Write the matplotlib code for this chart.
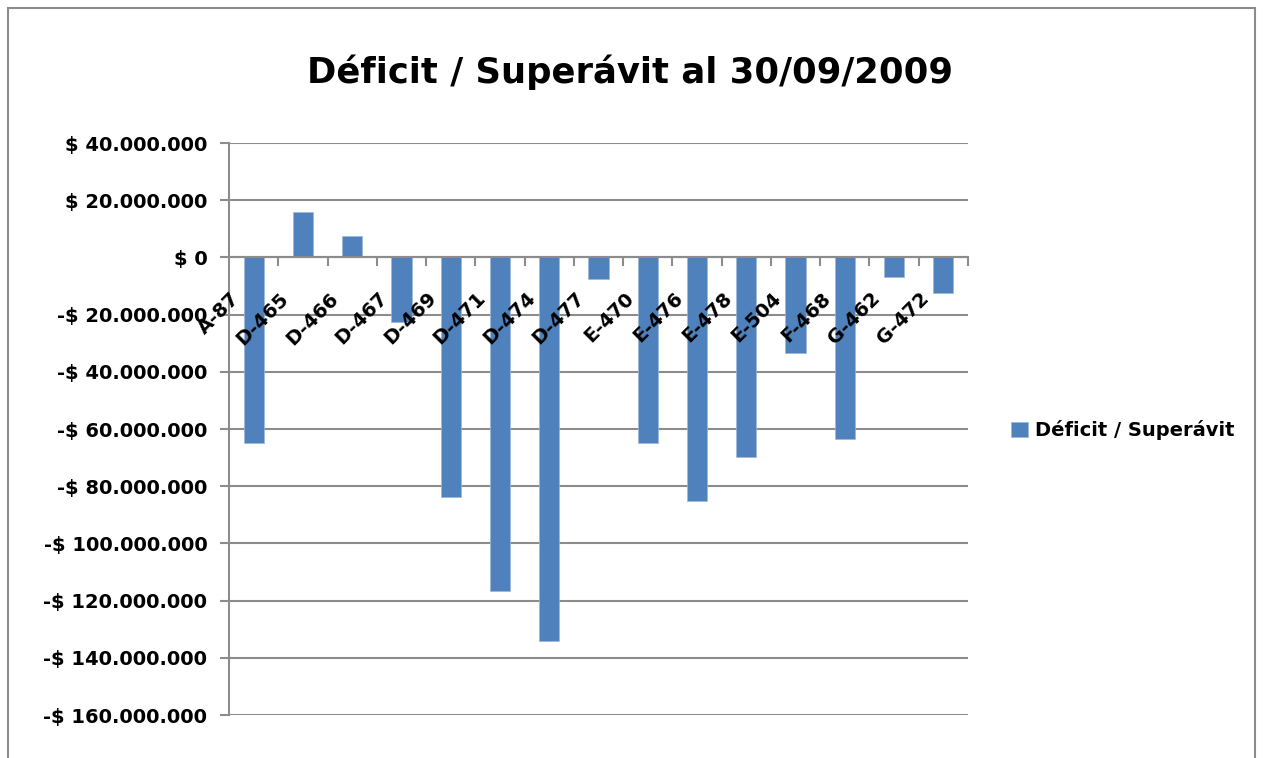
import matplotlib
matplotlib.use("Agg")
import matplotlib.pyplot as plt
import matplotlib.ticker as mticker
import matplotlib.transforms as mtransforms
from matplotlib.patches import Rectangle
import numpy as np

categories = ["A-87", "D-465", "D-466", "D-467", "D-469", "D-471", "D-474", "D-477",
              "E-470", "E-476", "E-478", "E-504", "F-468", "G-462", "G-472"]
values = [-65.0e6, 16.0e6, 7.5e6, -22.6e6, -83.8e6, -116.6e6, -134.1e6, -7.5e6,
          -65.0e6, -85.3e6, -69.8e6, -33.4e6, -63.4e6, -6.9e6, -12.4e6]
series_name = "Déficit / Superávit"
title = "Déficit / Superávit al 30/09/2009"
yticks = [40e6, 20e6, 0, -20e6, -40e6, -60e6, -80e6, -100e6, -120e6, -140e6, -160e6]

BAR = "#4F81BD"
GRID = "#8C8C8C"
FONT = "DejaVu Sans"

plt.rcParams['font.family'] = [FONT]

W, H = 1264, 758
fig = plt.figure(figsize=(W / 100, H / 100), dpi=100)
fig.patch.set_facecolor("white")

left, right, top, bottom = 229, 968, 143, 715
ax = fig.add_axes([left / W, 1 - bottom / H, (right - left) / W, (bottom - top) / H])

x = np.arange(len(categories))
ax.bar(x, values, width=0.41, color=BAR, edgecolor="#9DB7DA", linewidth=0.5,
       label=series_name, zorder=3)

ax.set_xlim(-0.5, len(categories) - 0.5)
ax.set_ylim(min(yticks), max(yticks))
ax.set_yticks(yticks)
ax.yaxis.grid(True, color=GRID, linewidth=1.5)
ax.set_axisbelow(True)
ax.xaxis.set_zorder(5)


def fmt(v, pos):
    if v == 0:
        return "$ 0"
    s = "{:,.0f}".format(abs(v)).replace(",", ".")
    return ("-$ " if v < 0 else "$ ") + s


ax.yaxis.set_major_formatter(mticker.FuncFormatter(fmt))
for sp in ["top", "right"]:
    ax.spines[sp].set_visible(False)
ax.spines["left"].set_color(GRID)
ax.spines["left"].set_linewidth(1.5)
ax.spines["bottom"].set_color(GRID)
ax.spines["bottom"].set_linewidth(1.5)
ax.spines["bottom"].set_position(("data", 0))
ax.spines["bottom"].set_zorder(4)

ax.tick_params(axis="y", direction="out", length=6.5, width=1.5, color=GRID,
               pad=9, labelsize=14)
for lab in ax.get_yticklabels():
    lab.set_fontweight("bold")

# category labels at centers, tick marks at boundaries
ax.set_xticks(x)
ax.set_xticks(np.arange(0.5, len(categories), 1.0), minor=True)
ax.tick_params(axis="x", which="major", length=0, pad=0, labelsize=14)
ax.tick_params(axis="x", which="minor", direction="out", length=6.5, width=1.5, color=GRID)
ax.set_xticklabels(categories, rotation=45, ha="right", va="center",
                   rotation_mode="anchor", fontweight="bold")
offset = mtransforms.ScaledTranslation(-17 / 100, -38 / 100, fig.dpi_scale_trans)
for lab in ax.get_xticklabels():
    lab.set_transform(lab.get_transform() + offset)

fig.text(630 / W, 1 - 72 / H, title, ha="center", va="center",
         fontsize=25.5, fontweight="bold")

leg = fig.legend(loc="center left", bbox_to_anchor=(1011 / W, 1 - 430 / H),
                 frameon=False, prop={"weight": "bold", "size": 14},
                 handlelength=0.85, handleheight=0.85, handletextpad=0.4,
                 borderpad=0, borderaxespad=0)

fig.patches.append(Rectangle((8 / W, -0.02), (1255 - 8) / W, 1.02 - 8 / H,
                             transform=fig.transFigure, fill=False,
                             edgecolor="#8C8C8C", linewidth=1.5))

fig.savefig("out.png", dpi=100, facecolor="white")
